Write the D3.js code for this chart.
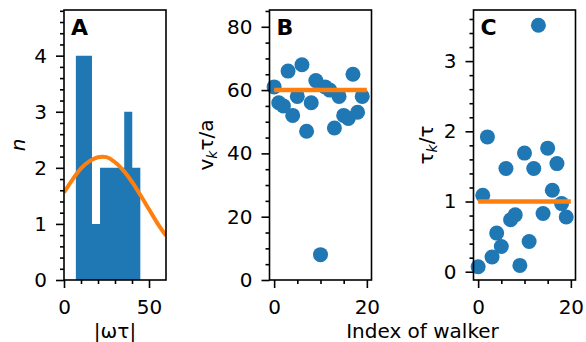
<!DOCTYPE html>
<html>
<head>
<meta charset="utf-8">
<script src="https://cdn.jsdelivr.net/npm/d3@7"></script>
<style>
  html, body { margin: 0; padding: 0; background: #fff; }
  svg { display: block; font-family: "DejaVu Sans", sans-serif; }
</style>
</head>
<body>
<svg id="chart" width="586" height="342"></svg>
<script>
// Panel A: histogram of |ωτ| (8 equal bins) and a fitted bell curve
const binEdges = [6.98, 11.72, 16.46, 21.2, 25.94, 30.68, 35.42, 40.16, 44.9];
const binCounts = [4, 4, 1, 2, 2, 2, 3, 2];
const fitX = [0, 5, 10, 15, 20, 25, 30, 35, 40, 45, 50, 55, 60];
const fitY = [1.56, 1.79, 1.99, 2.12, 2.19, 2.19, 2.10, 1.95, 1.75, 1.51, 1.26, 1.01, 0.79];

// Panels B and C: per-walker values, walker index 0..19
const walkerIndex = d3.range(20);
const speed = [61, 56, 55, 66, 52, 58, 68, 47, 56, 63, 8, 61, 60, 48, 58, 52, 51, 65, 53, 58];
const tau = [0.07, 1.09, 1.92, 0.21, 0.55, 0.36, 1.47, 0.74, 0.81, 0.09, 1.69, 0.43, 1.47, 3.51, 0.83, 1.76, 1.16, 1.54, 0.97, 0.78];
const speedRef = 60;
const tauRef = 1;
const refSpan = [0, 20];

// Tick labels
const ticksAYMajor = [0, 1, 2, 3, 4];
const ticksAXMajor = [0, 50];
const ticksBYMajor = [0, 20, 40, 60, 80];
const ticksCYMajor = [0, 1, 2, 3];
const ticksIdxMajor = [0, 20];

const BLUE = "#1f77b4", ORANGE = "#ff7f0e";
const FS = 20;
const svg = d3.select("#chart");
const plotTop = 10, plotBottom = 280;

function minorTicks(lo, hi, step, majors) {
  const out = [];
  for (let v = lo; v <= hi + 1e-9; v += step) {
    const r = Math.round(v * 1000) / 1000;
    if (!majors.some(m => Math.abs(m - r) < 1e-6)) out.push(r);
  }
  return out;
}

function styleAxis(g) {
  g.select(".domain").remove();
  g.selectAll(".tick line").attr("stroke", "#000").attr("stroke-width", 1.6);
  g.selectAll(".tick text").attr("font-size", FS).attr("fill", "#000")
    .attr("font-family", "DejaVu Sans, sans-serif");
}

function drawAxes(left, right, x, y, xMaj, xMin, yMaj, yMin) {
  const g = svg.append("g");
  g.append("g").attr("transform", `translate(${left},0)`)
    .call(d3.axisLeft(y).tickValues(yMaj).tickSize(8).tickPadding(9).tickFormat(d3.format("d")))
    .call(styleAxis);
  g.append("g").attr("transform", `translate(${left},0)`)
    .call(d3.axisLeft(y).tickValues(yMin).tickSize(4).tickFormat(""))
    .call(styleAxis);
  g.append("g").attr("transform", `translate(0,${plotBottom})`)
    .call(d3.axisBottom(x).tickValues(xMaj).tickSize(8).tickPadding(11.5).tickFormat(d3.format("d")))
    .call(styleAxis);
  g.append("g").attr("transform", `translate(0,${plotBottom})`)
    .call(d3.axisBottom(x).tickValues(xMin).tickSize(4).tickFormat(""))
    .call(styleAxis);
  return g;
}

function frame(left, right, letter) {
  svg.append("rect").attr("x", left).attr("y", plotTop)
    .attr("width", right - left).attr("height", plotBottom - plotTop)
    .attr("fill", "none").attr("stroke", "#000").attr("stroke-width", 1.6);
  svg.append("text").attr("x", left + 7).attr("y", 34.5)
    .attr("font-size", 22).attr("font-weight", "bold").text(letter);
}

// ---------- Panel A ----------
{
  const left = 64, right = 166;
  const x = d3.scaleLinear().domain([0, 60]).range([left, right]);
  const y = d3.scaleLinear().domain([0, 4.8]).range([plotBottom, plotTop + 0.8]);
  // histogram drawn as one stepped area so adjacent bins join without seams
  const steps = binCounts.map((c, i) => [binEdges[i], c]);
  steps.push([binEdges[binEdges.length - 1], binCounts[binCounts.length - 1]]);
  svg.append("path")
    .datum(steps)
    .attr("d", d3.area().x(d => x(d[0])).y0(y(0)).y1(d => y(d[1])).curve(d3.curveStepAfter))
    .attr("fill", BLUE);
  svg.append("clipPath").attr("id", "clipA")
    .append("rect").attr("x", left).attr("y", plotTop)
    .attr("width", right - left).attr("height", plotBottom - plotTop);
  svg.append("path")
    .datum(fitX.map((v, i) => [v, fitY[i]]))
    .attr("clip-path", "url(#clipA)")
    .attr("d", d3.line().x(d => x(d[0])).y(d => y(d[1])).curve(d3.curveCatmullRom))
    .attr("fill", "none").attr("stroke", ORANGE).attr("stroke-width", 4);
  drawAxes(left, right, x, y, ticksAXMajor, [10, 20, 30, 40],
    ticksAYMajor, minorTicks(0, 4.8, 0.2, ticksAYMajor));
  frame(left, right, "A");
  svg.append("text").attr("transform", "translate(25,145) rotate(-90)")
    .attr("text-anchor", "middle").attr("font-size", FS).attr("font-style", "italic").text("n");
  svg.append("text").attr("x", (left + right) / 2).attr("y", 337.5)
    .attr("text-anchor", "middle").attr("font-size", FS).text("|ωτ|");
}

// ---------- Panel B ----------
{
  const left = 269.5, right = 371.5;
  const x = d3.scaleLinear().domain([-1, 21]).range([left, right]);
  const y = d3.scaleLinear().domain([0, 85.3]).range([plotBottom, plotTop]);
  svg.append("g").selectAll("circle").data(walkerIndex).join("circle")
    .attr("cx", i => x(i)).attr("cy", i => y(speed[i])).attr("r", 7.5).attr("fill", BLUE);
  svg.append("line").attr("x1", x(refSpan[0])).attr("x2", x(refSpan[1]))
    .attr("y1", y(speedRef)).attr("y2", y(speedRef))
    .attr("stroke", ORANGE).attr("stroke-width", 4.5);
  drawAxes(left, right, x, y, ticksIdxMajor, [5, 10, 15],
    ticksBYMajor, minorTicks(0, 85, 5, ticksBYMajor));
  frame(left, right, "B");
  const t = svg.append("text").attr("transform", "translate(213,145) rotate(-90)")
    .attr("text-anchor", "middle").attr("font-size", FS);
  t.append("tspan").text("v");
  t.append("tspan").attr("font-style", "italic").attr("font-size", 14).attr("dy", 4).text("k");
  t.append("tspan").attr("dy", -4).text("τ/a");
}

// ---------- Panel C ----------
{
  const left = 473.5, right = 575.5;
  const x = d3.scaleLinear().domain([-1, 21]).range([left, right]);
  const y = d3.scaleLinear().domain([-0.118, 3.728]).range([plotBottom, plotTop]);
  svg.append("g").selectAll("circle").data(walkerIndex).join("circle")
    .attr("cx", i => x(i)).attr("cy", i => y(tau[i])).attr("r", 7.5).attr("fill", BLUE);
  svg.append("line").attr("x1", x(refSpan[0])).attr("x2", x(refSpan[1]))
    .attr("y1", y(tauRef)).attr("y2", y(tauRef))
    .attr("stroke", ORANGE).attr("stroke-width", 4.5);
  drawAxes(left, right, x, y, ticksIdxMajor, [5, 10, 15],
    ticksCYMajor, minorTicks(0, 3.6, 0.2, ticksCYMajor));
  frame(left, right, "C");
  const t = svg.append("text").attr("transform", "translate(433,145) rotate(-90)")
    .attr("text-anchor", "middle").attr("font-size", FS);
  t.append("tspan").text("τ");
  t.append("tspan").attr("font-style", "italic").attr("font-size", 14).attr("dy", 4).text("k");
  t.append("tspan").attr("dy", -4).text("/τ");
}

// Shared x label for panels B and C
svg.append("text").attr("x", 422.5).attr("y", 337.5)
  .attr("text-anchor", "middle").attr("font-size", FS).text("Index of walker");
</script>
</body>
</html>
